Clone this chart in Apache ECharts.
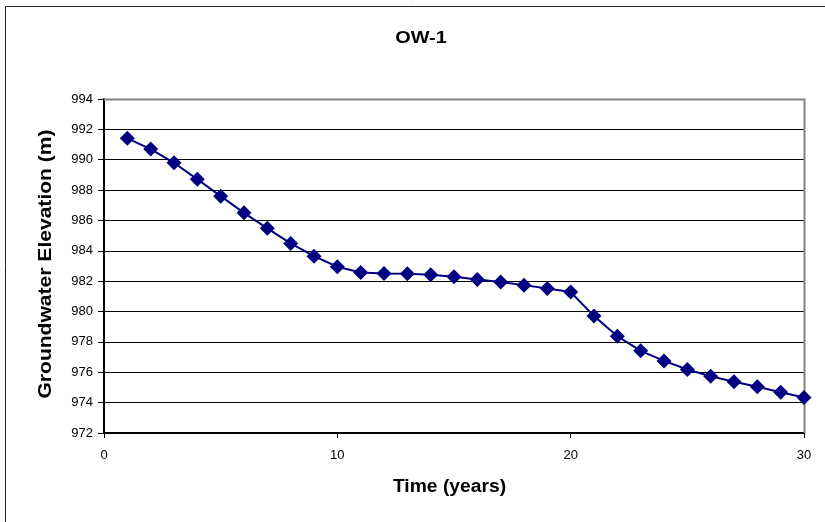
<!DOCTYPE html>
<html>
<head>
<meta charset="utf-8">
<script src="https://cdn.jsdelivr.net/npm/echarts@6/dist/echarts.min.js"></script>
<style>
  html, body { margin: 0; padding: 0; background: #fff; }
  #chart { width: 825px; height: 522px; }
</style>
</head>
<body>
<div id="chart"></div>
<script>
// Observation well OW-1: groundwater elevation over time
const years = [1, 2, 3, 4, 5, 6, 7, 8, 9, 10, 11, 12, 13, 14, 15, 16, 17, 18, 19, 20,
               21, 22, 23, 24, 25, 26, 27, 28, 29, 30];
const elevation = [991.41, 990.70, 989.80, 988.71, 987.60, 986.50, 985.48, 984.49, 983.65, 982.95,
                   982.57, 982.51, 982.49, 982.42, 982.29, 982.11, 981.94, 981.74, 981.52, 981.29,
                   979.70, 978.38, 977.41, 976.75, 976.18, 975.74, 975.37, 975.04, 974.69, 974.34];

const chartTitle = 'OW-1';
const xName = 'Time (years)';
const yName = 'Groundwater Elevation (m)';

const font = 'Liberation Sans, Arial, sans-serif';
const chart = echarts.init(document.getElementById('chart'), null, { renderer: 'canvas' });

chart.setOption({
  animation: false,
  backgroundColor: '#fff',
  textStyle: { fontFamily: font },
  graphic: [
    {
      type: 'rect',
      shape: { x: 5.5, y: 6.5, width: 840, height: 540 },
      style: { fill: 'none', stroke: '#222', lineWidth: 1 },
      silent: true, z: -1
    },
    {
      // plot frame: grey top and right edges
      type: 'polyline',
      shape: { points: [[104, 99.5], [804.5, 99.5], [804.5, 433]] },
      style: { fill: 'none', stroke: '#808080', lineWidth: 2 },
      silent: true, z: 1
    },
    {
      type: 'text',
      x: 421, y: 38, scaleX: 1.17,
      style: { text: chartTitle, font: 'bold 17px ' + font, fill: '#000',
               align: 'center', verticalAlign: 'middle' }
    },
    {
      type: 'text',
      x: 449.5, y: 487.5, scaleX: 1.07,
      style: { text: xName, font: 'bold 18px ' + font, fill: '#000',
               align: 'center', verticalAlign: 'middle' }
    },
    {
      type: 'text',
      x: 46.5, y: 264, rotation: Math.PI / 2, scaleX: 1.17,
      style: { text: yName, font: 'bold 18px ' + font, fill: '#000',
               align: 'center', verticalAlign: 'middle' }
    }
  ],
  grid: { left: 104, top: 99, right: 21, bottom: 89, containLabel: false },
  xAxis: {
    type: 'value',
    min: 0, max: 30, interval: 10,
    axisLine: { show: true, onZero: false, lineStyle: { color: '#000', width: 2 } },
    axisTick: { show: true, length: 5, lineStyle: { color: '#000', width: 1 } },
    axisLabel: { fontFamily: font, fontSize: 13, color: '#000', margin: 16 },
    splitLine: { show: false }
  },
  yAxis: {
    type: 'value',
    min: 972, max: 994, interval: 2,
    axisLine: { show: true, onZero: false, lineStyle: { color: '#000', width: 2 } },
    axisTick: { show: true, length: 6, lineStyle: { color: '#000', width: 1 } },
    axisLabel: { fontFamily: font, fontSize: 13, color: '#000', margin: 11 },
    splitLine: { show: true, lineStyle: { color: '#000', width: 1 } }
  },
  series: [{
    type: 'line',
    data: years.map((t, i) => [t, elevation[i]]),
    symbol: 'diamond',
    symbolSize: 15,
    itemStyle: { color: '#000080' },
    lineStyle: { color: '#000080', width: 2 },
    clip: false,
    z: 3
  }]
});
</script>
</body>
</html>
